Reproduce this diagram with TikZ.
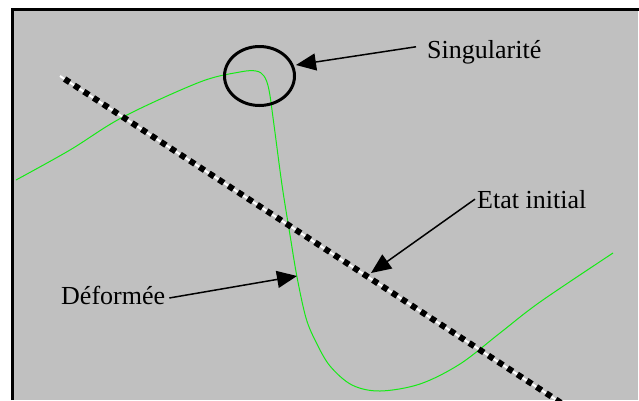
\documentclass[tikz,border=0pt]{standalone}
\usepackage{fontspec}
\setmainfont{Liberation Serif}
\usetikzlibrary{arrows.meta, shapes.geometric}
\definecolor{panelgray}{RGB}{192,192,192}
\definecolor{curvegreen}{RGB}{20,235,20}

\begin{document}
\begin{tikzpicture}[x=1pt, y=-1pt,
    lbl/.style={font=\fontsize{26}{30}\selectfont, inner sep=0pt},
    pointer/.style={draw, line width=1.5pt, -{Triangle[length=20pt, width=17pt]}}]
    % canvas in pixel units, y pointing down
    \useasboundingbox (0,0) rectangle (639,400);
    \clip (0,0) rectangle (639,400);

    % Panel (only left and top edges are visible)
    \fill[panelgray] (12,9) rectangle (638,400);
    \draw[black, line width=3pt] (12,400) -- (12,9) -- (639,9);

    % Deformed shape
    \draw[curvegreen, line width=1pt] plot[smooth, tension=0.55] coordinates {
        (16,180) (70,150) (123,117) (200,82) (240,72) (256,71) (264,76)
        (269,90) (274,125) (282,185) (290,235) (297,277) (306,318) (316,342)
        (330,366) (352,385) (380,391) (420,384) (460,364) (500,333) (540,302) (613,253)};

    % Initial state: black squares on a thin white line
    \coordinate (ini-a) at (60,76);
    \coordinate (ini-b) at (575,412);
    \draw[white, line width=2pt] (ini-a) -- (ini-b);
    \draw[black, line width=6pt, dash pattern=on 6pt off 5.5pt, dash phase=6pt] (ini-a) -- (ini-b);

    % Singularity ring
    \node[draw, ellipse, line width=3pt, minimum width=70pt, minimum height=59pt, inner sep=0pt] (ring) at (259.5,76) {};

    % Labels
    \node[lbl, anchor=base west] (sing) at (427,58) {Singularité};
    \node[lbl, anchor=base west] (etat) at (477,208) {Etat initial};
    \node[lbl, anchor=base west] (deform) at (61,304) {Déformée};

    % Arrow tips
    \coordinate (ring-tip) at (296,65);
    \coordinate (ini-tip) at (371,273);
    \coordinate (def-tip) at (297,276);

    \draw[pointer] ([xshift=-11pt, yshift=5pt]sing.west) -- (ring-tip);
    \draw[pointer] ([xshift=-2pt]etat.west) -- (ini-tip);
    \draw[pointer] ([xshift=4pt, yshift=-3pt]deform.east) -- (def-tip);
\end{tikzpicture}
\end{document}
